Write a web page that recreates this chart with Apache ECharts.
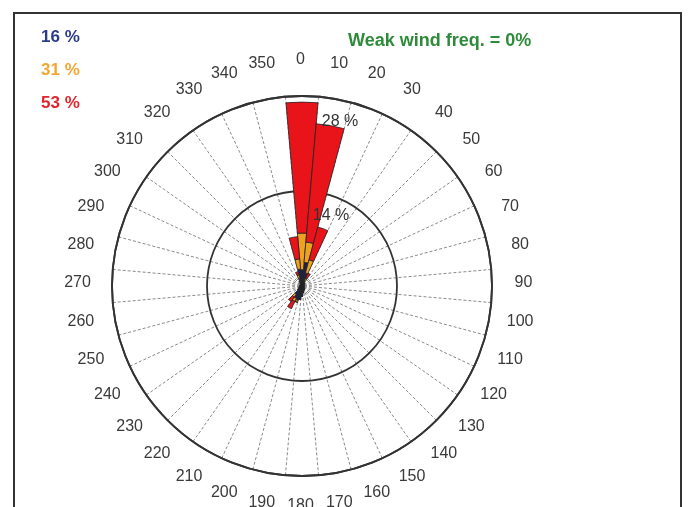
<!DOCTYPE html>
<html>
<head>
<meta charset="utf-8">
<script src="https://cdn.jsdelivr.net/npm/echarts@6/dist/echarts.min.js"></script>
<style>
html,body{margin:0;padding:0;background:#fff}
#chart{width:688px;height:507px}
</style>
</head>
<body>
<div id="chart"></div>
<script>
// Wind direction sectors (degrees, clockwise from north)
var directions = ['0','10','20','30','40','50','60','70','80','90','100','110',
  '120','130','140','150','160','170','180','190','200','210','220','230',
  '240','250','260','270','280','290','300','310','320','330','340','350'];

// Frequency (%) per sector for each speed class, stacked outward
var classLow = [2.4, 3.5, 2.0, 0.8, 0.5, 0.4, 0.4, 0.3, 0.3, 0.3, 0.3, 0.3,
  0.3, 0.4, 0.5, 0.6, 0.8, 1.0, 1.5, 2.0, 2.2, 2.0, 1.5, 0.8,
  0.5, 0.4, 0.3, 0.3, 0.3, 0.3, 0.3, 0.3, 0.4, 0.6, 1.2, 2.5];
var classMid = [5.4, 3.0, 2.0, 0.5, 0, 0, 0, 0, 0, 0, 0, 0,
  0, 0, 0, 0, 0, 0, 0, 0, 0.3, 0.5, 0.5, 0,
  0, 0, 0, 0, 0, 0, 0, 0, 0, 0.2, 0.5, 1.5];
var classHigh = [19.3, 17.5, 5.0, 0.8, 0, 0, 0, 0, 0, 0, 0, 0,
  0, 0, 0, 0, 0, 0, 0, 0, 0, 1.2, 0.8, 0,
  0, 0, 0, 0, 0, 0, 0, 0, 0, 0, 0.5, 3.3];

// Class share texts and radial ring values
var classShares = ['16 %', '31 %', '53 %'];
var classColors = ['#2c3a8c', '#f2a733', '#e3242b'];
var ringTicks = [14, 28];
var calmText = 'Weak wind freq. = 0%';

var chart = echarts.init(document.getElementById('chart'), null, {renderer: 'canvas'});

var cx = 302, cy = 286, R = 190;
var barColors = ['#1d1f55', '#f0a21e', '#e8141a'];
var stacks = [classLow, classMid, classHigh];
var fontFam = '"Liberation Sans", Arial, sans-serif';

var series = stacks.map(function (vals, i) {
  return {
    type: 'bar',
    coordinateSystem: 'polar',
    stack: 'speed',
    data: vals,
    barCategoryGap: '0%',
    itemStyle: {color: barColors[i], borderColor: '#222', borderWidth: 0.8},
    silent: true,
    z: 3
  };
});

var graphics = [
  {type: 'rect', shape: {x: 14, y: 13, width: 667, height: 520},
   style: {fill: 'none', stroke: '#333', lineWidth: 2}, z: 10}
];

// Compass labels: centred text on a ring outside the plot
var labelRing = 223, labelCx = cx - 1.5, labelCy = cy - 3;
directions.forEach(function (d, i) {
  var a = i * 10 * Math.PI / 180;
  graphics.push({type: 'text',
    x: labelCx + labelRing * Math.sin(a), y: labelCy - labelRing * Math.cos(a),
    style: {text: d, fill: '#3a3a3a', font: '16px ' + fontFam,
            align: 'center', verticalAlign: 'middle'}, z: 5});
});

classShares.forEach(function (t, i) {
  graphics.push({type: 'text', x: 41, y: 37 + i * 33,
    style: {text: t, fill: classColors[i], font: 'bold 17px ' + fontFam,
            align: 'left', verticalAlign: 'middle'}, z: 10});
});
graphics.push({type: 'text', x: 348, y: 41,
  style: {text: calmText, fill: '#2e8b3a', font: 'bold 18px ' + fontFam,
          align: 'left', verticalAlign: 'middle'}, z: 10});
// Ring value labels, placed along a ray just east of north
var ringLabelPos = [[331, 216], [340, 122]];
ringTicks.forEach(function (v, i) {
  graphics.push({type: 'text', x: ringLabelPos[i][0], y: ringLabelPos[i][1],
    style: {text: v + ' %', fill: '#333', font: '16px ' + fontFam,
            align: 'center', verticalAlign: 'middle'}, z: 10});
});

chart.setOption({
  backgroundColor: '#fff',
  animation: false,
  polar: {center: [cx, cy], radius: R},
  angleAxis: {
    type: 'category',
    data: directions,
    startAngle: 95,
    clockwise: true,
    boundaryGap: true,
    axisLine: {show: true, lineStyle: {color: '#333', width: 1.8}},
    axisTick: {show: false},
    axisLabel: {show: false, interval: 0},
    splitLine: {show: true, interval: 0, lineStyle: {color: '#8a8a8a', width: 1, type: [3, 2]}},
    z: 1
  },
  radiusAxis: {
    type: 'value',
    min: 0,
    max: ringTicks[1],
    interval: ringTicks[0],
    axisLine: {show: false},
    axisTick: {show: false},
    axisLabel: {show: false},
    splitLine: {show: true, lineStyle: {color: '#333', width: 1.8}},
    z: 2
  },
  series: series,
  graphic: graphics
});
</script>
</body>
</html>
